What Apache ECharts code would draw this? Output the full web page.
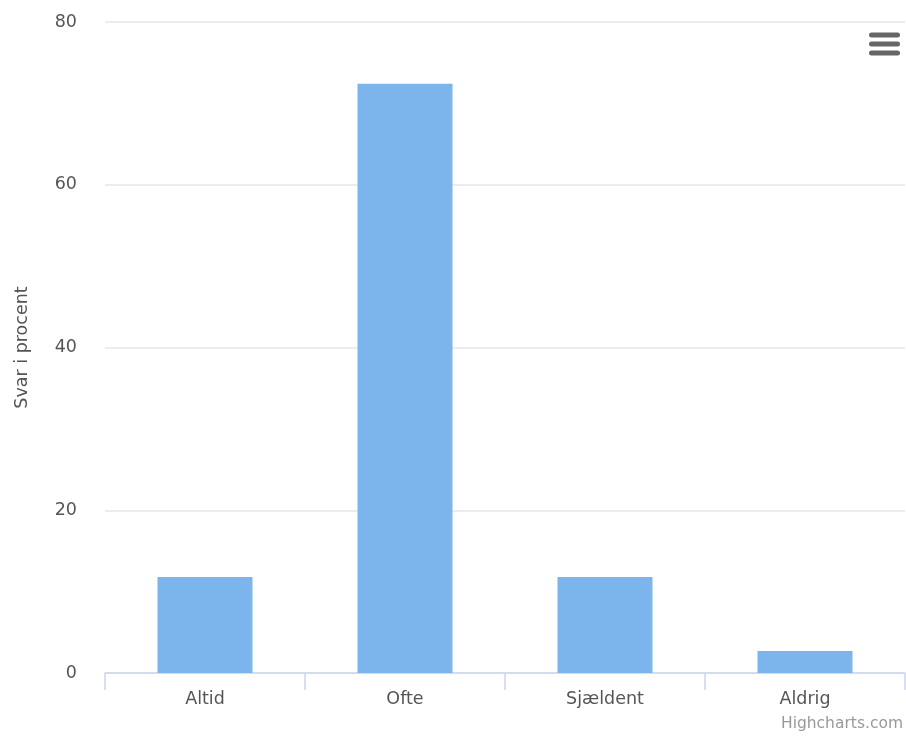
<!DOCTYPE html>
<html>
<head>
<meta charset="utf-8">
<script src="https://cdn.jsdelivr.net/npm/echarts@6/dist/echarts.min.js"></script>
<style>
  html, body { margin: 0; padding: 0; background: #fff; }
  #chart { width: 906px; height: 738px; }
</style>
</head>
<body>
<div id="chart"></div>
<script>
// svar fordelt paa kategorier
var categories = ['Altid', 'Ofte', 'Sjældent', 'Aldrig'];
var values = [11.8, 72.4, 11.8, 2.7];
var yTicks = [0, 20, 40, 60, 80];

var myChart = echarts.init(document.getElementById('chart'));

// menu-ikon oeverst til hoejre
var menuLines = [35, 44, 53].map(function(y){
    return {
        type: 'rect',
        shape: { x: 869, y: y - 2.5, width: 31, height: 5, r: 2.5 },
        style: { fill: '#666' }
    };
});

var option = {
    animation: false,
    grid: { left: 105, right: 1, top: 22, bottom: 65 },
    xAxis: {
        type: 'category',
        data: categories,
        axisLine: { lineStyle: { color: '#ccd6eb', width: 1.5 } },
        axisTick: { show: true, length: 17, lineStyle: { color: '#ccd6eb', width: 1.5 } },
        axisLabel: { color: '#555', fontSize: 17.5, fontFamily: 'DejaVu Sans', margin: 17 }
    },
    yAxis: {
        type: 'value',
        min: yTicks[0],
        max: yTicks[yTicks.length - 1],
        interval: 20,
        name: 'Svar i procent',
        nameLocation: 'middle',
        nameGap: 74,
        nameTextStyle: { color: '#555', fontSize: 17.5, fontFamily: 'DejaVu Sans' },
        axisLine: { show: false },
        axisTick: { show: false },
        axisLabel: { color: '#555', fontSize: 17.5, fontFamily: 'DejaVu Sans', margin: 28 },
        splitLine: { lineStyle: { color: '#e6e6e6', width: 1.5 } }
    },
    series: [{
        type: 'bar',
        data: values,
        barWidth: '47.5%',
        itemStyle: { color: '#7cb5ec' }
    }],
    graphic: menuLines.concat([{
        type: 'text',
        right: 3,
        top: 716,
        style: { text: 'Highcharts.com', fill: '#999', fontSize: 15.5, fontFamily: 'DejaVu Sans' }
    }])
};

myChart.setOption(option);
</script>
</body>
</html>
